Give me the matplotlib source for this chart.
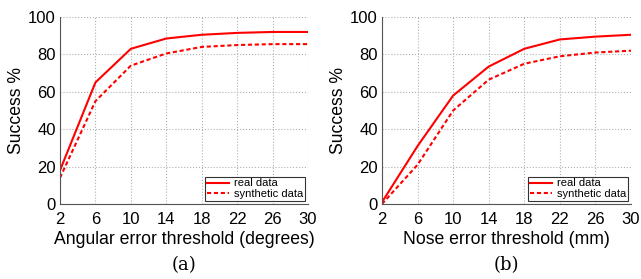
import matplotlib
matplotlib.use('Agg')
import matplotlib.pyplot as plt

# thresholds on the x axis
thresholds = [2, 6, 10, 14, 18, 22, 26, 30]

# (a) angular error
angular_real = [18, 65, 83, 88.5, 90.5, 91.5, 92, 92]
angular_synth = [14, 55, 74, 80.5, 84, 85, 85.5, 85.5]

# (b) nose error
nose_real = [1, 31, 58, 73.5, 83, 88, 89.5, 90.5]
nose_synth = [0, 21, 50, 66.5, 75, 79, 81, 82]

xlabels = ['Angular error threshold (degrees)', 'Nose error threshold (mm)']
captions = ['(a)', '(b)']

plt.rcParams['font.family'] = ['Liberation Sans', 'DejaVu Sans']

fig = plt.figure(figsize=(6.41, 2.79), dpi=100)
# axes rectangles in figure fractions
rects = [[60/641, 1 - 204/279, 248/641, 187/279],
         [382/641, 1 - 204/279, 249/641, 187/279]]
panels = [(angular_real, angular_synth), (nose_real, nose_synth)]

for rect, (real, synth), xl, cap in zip(rects, panels, xlabels, captions):
    ax = fig.add_axes(rect)
    ax.plot(thresholds, real, color='red', linewidth=1.5, label='real data')
    ax.plot(thresholds, synth, color='red', linewidth=1.5, linestyle=(0, (2, 1.3)),
            label='synthetic data')
    ax.set_xlim(2, 30)
    ax.set_ylim(0, 100)
    ax.set_xticks(thresholds)
    ax.set_yticks([0, 20, 40, 60, 80, 100])
    ax.tick_params(labelsize=12, length=0)
    ax.tick_params(axis='x', pad=6)
    ax.tick_params(axis='y', pad=3)
    ax.grid(True, color='#b0b0b0', linestyle=':', linewidth=0.8)
    for s in ['top', 'right']:
        ax.spines[s].set_visible(False)
    for s in ['left', 'bottom']:
        ax.spines[s].set_color('#555555')
        ax.spines[s].set_linewidth(0.8)
    ax.set_xlabel(xl, fontsize=12.7, labelpad=3)
    ax.set_ylabel('Success %', fontsize=12.7, labelpad=2)
    leg = ax.legend(loc='lower right', fontsize=8, frameon=True, fancybox=False,
                    handlelength=2.0, borderpad=0.15, labelspacing=0.05,
                    handletextpad=0.4, borderaxespad=0.3)
    leg.get_frame().set_edgecolor('black')
    leg.get_frame().set_linewidth(0.8)
    x_mid = rect[0] + rect[2] / 2
    fig.text(x_mid, 0.05, cap, ha='center', va='center', fontsize=13,
             family='DejaVu Serif')

plt.savefig('out.png', dpi=100, facecolor='white')
